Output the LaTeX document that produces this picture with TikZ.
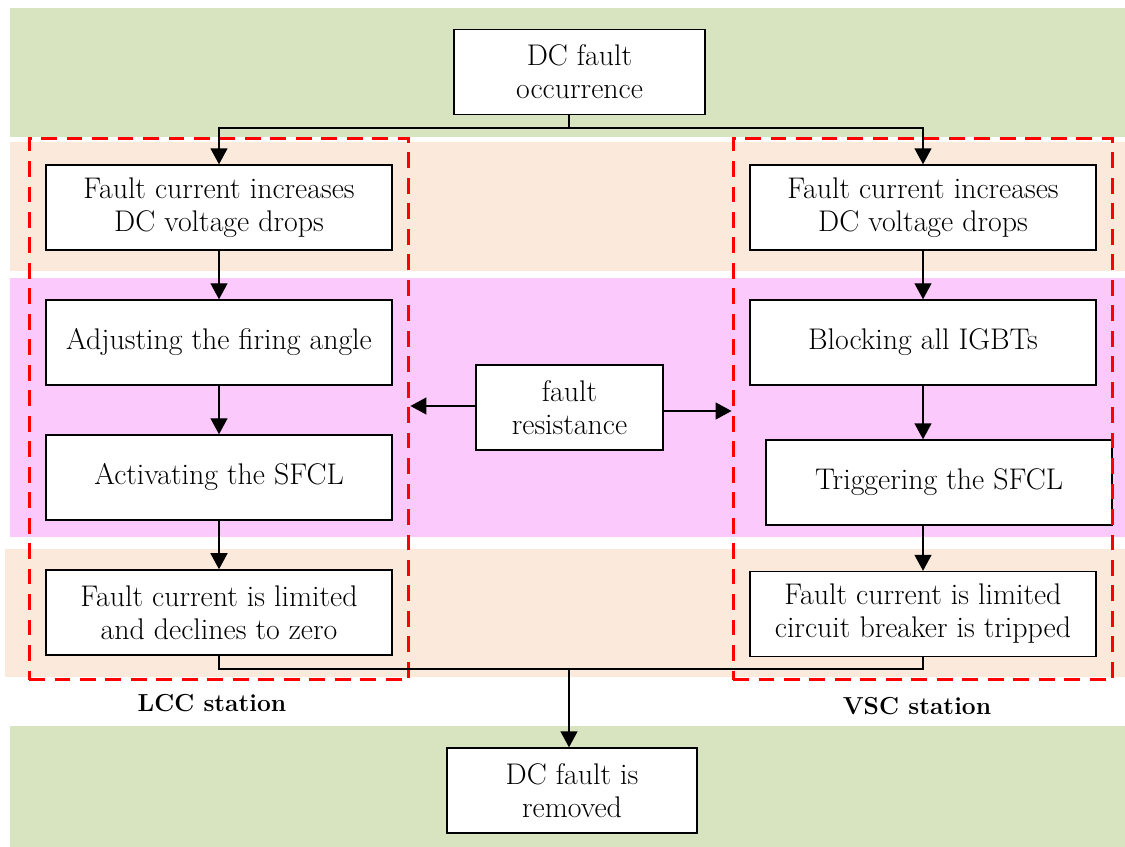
\documentclass[tikz,border=0pt]{standalone}
\usepackage{fontspec}
\usetikzlibrary{arrows.meta,positioning}
\definecolor{bandgreen}{RGB}{216,228,191}
\definecolor{bandpeach}{RGB}{251,233,219}
\definecolor{bandpink}{RGB}{252,201,252}
\tikzset{
  stepbox/.style={draw, fill=white, minimum width=6.92cm, minimum height=1.7cm,
    align=center, font=\fontsize{17}{18.8}\selectfont},
  stationbox/.style={draw=red, line width=1.7pt, dash pattern=on 9pt off 5.5pt,
    minimum width=7.6cm, minimum height=10.84cm},
  stationlabel/.style={font=\fontsize{14}{17}\selectfont\bfseries}
}
\begin{document}
\begin{tikzpicture}[x=0.02cm,y=-0.02cm,line width=0.8pt,node distance=2.7cm,
    >={Triangle[length=0.32cm,width=0.34cm]}]
      \useasboundingbox (0,0) rectangle (1125,847);

      % background bands
      \fill[bandgreen] (10,8) rectangle (1125,137);
      \fill[bandpeach] (10,142) rectangle (1125,271);
      \fill[bandpink] (10,278) rectangle (1125,537);
      \fill[bandpeach] (5,549) rectangle (1125,677);
      \fill[bandgreen] (10,726) rectangle (1125,847);

      \node(occur) [stepbox, minimum width=5.02cm] at (579.5,72) {DC fault\\occurrence};

      % LCC side
      \node(lccrise) [stepbox] at (219,207.5) {Fault current increases\\DC voltage drops};
      \node(lccfire) [stepbox, below of=lccrise] {Adjusting the firing angle} edge [<-] (lccrise);
      \node(lccsfcl) [stepbox, below of=lccfire] {Activating the SFCL} edge [<-] (lccfire);
      \node(lccend) [stepbox, below of=lccsfcl] {Fault current is limited\\and declines to zero} edge [<-] (lccsfcl);

      % VSC side
      \node(vscrise) [stepbox] at (923,207.5) {Fault current increases\\DC voltage drops};
      \node(vscblock) [stepbox, below of=vscrise] {Blocking all IGBTs} edge [<-] (vscrise);
      \node(vscsfcl) [stepbox] at (939,482.5) {Triggering the SFCL};
      \node(vscend) [stepbox] at (923,614) {Fault current is limited\\circuit breaker is tripped};
      \draw[->] (vscblock.south) -- (vscblock.south |- vscsfcl.north);
      \draw[->] (vscsfcl.south -| vscend.north) -- (vscend.north);

      \node(removed) [stepbox, minimum width=5cm] at (572,790.5) {DC fault is\\removed};
      \node(resist) [stepbox, minimum width=3.74cm] at (569.5,407.5) {fault\\resistance};

      % stations
      \node(lcc) [stationbox] at (219,409) {};
      \node(vsc) [stationbox] at (923,409) {};
      \node(lcclabel) [stationlabel, below=0.12cm of lcc, xshift=-0.14cm] {LCC station};
      \node(vsclabel) [stationlabel, below=0.18cm of vsc, xshift=-0.12cm] {VSC station};

      \draw[->] ([yshift=0.03cm]resist.west) -- ([yshift=0.03cm]resist.west -| lcc.east);
      \draw[->] ([yshift=-0.07cm]resist.east) -- ([yshift=-0.07cm]resist.east -| vsc.west);

      % split and join
      \coordinate (split) at (569,128);
      \coordinate (join) at (569,669);
      \draw (occur.south -| split) -- (split);
      \draw[->] (split) -| (lccrise.north);
      \draw[->] (split) -| (vscrise.north);
      \draw (lccend.south) |- (join);
      \draw (vscend.south) |- (join);
      \draw[->] (join) -- (join |- removed.north);
    \end{tikzpicture}
\end{document}
